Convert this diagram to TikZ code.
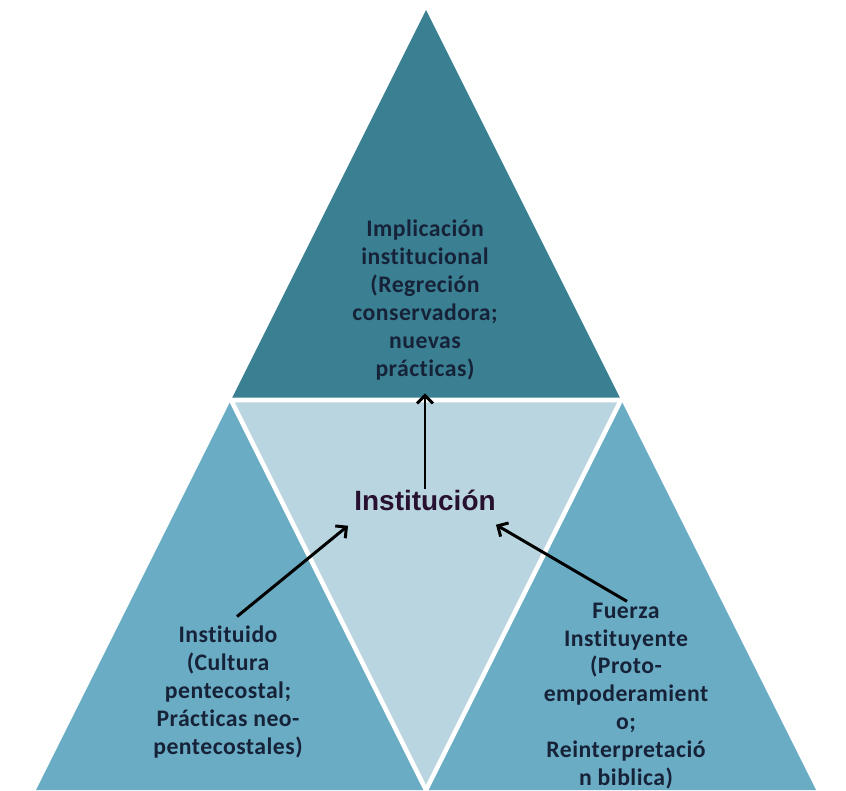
\documentclass[tikz,border=0pt]{standalone}
\usepackage{fontspec}
\usepackage{tikz}
\usetikzlibrary{arrows.meta}
\newfontfamily\boxfont[LetterSpace=2,Ligatures=NoCommon]{Carlito}
\newfontfamily\titlefont{Liberation Sans}
\definecolor{topteal}{RGB}{58,127,146}
\definecolor{sideteal}{RGB}{106,172,196}
\definecolor{midblue}{RGB}{185,214,224}
\definecolor{boxtext}{RGB}{22,34,56}
\definecolor{titletext}{RGB}{40,16,48}

\begin{document}
\begin{tikzpicture}[scale=0.2]
\tikzstyle{every node}+=[inner sep=0pt]
\tikzstyle{boxlabel}=[align=center, text=boxtext, font=\boxfont\bfseries\fontsize{13.5}{15.9}\selectfont]
\tikzstyle{arr}=[black, line width=1.7pt, -{Straight Barb[length=4.5pt,width=9pt]}]
\useasboundingbox (0,0) rectangle (84.6,-79);
% corners of the big triangle
\coordinate (apex) at (42.6,-1);
\coordinate (ml) at (23.1,-40);
\coordinate (mr) at (62.1,-40);
\coordinate (bl) at (3.6,-79);
\coordinate (bm) at (42.6,-79);
\coordinate (br) at (81.6,-79);
\fill [topteal] (apex) -- (ml) -- (mr) -- cycle;
\fill [sideteal] (ml) -- (bl) -- (bm) -- cycle;
\fill [sideteal] (mr) -- (bm) -- (br) -- cycle;
\fill [midblue] (ml) -- (mr) -- (bm) -- cycle;
\draw [white, line width=2.6pt] (ml) -- (mr) -- (bm) -- cycle;
% texts
\node [boxlabel] (implicacion) at (42.5,-30) {Implicación\\institucional\\(Regreción\\conservadora;\\nuevas\\prácticas)};
\node [boxlabel] (instituido) at (22.8,-69.2) {Instituido\\(Cultura\\pentecostal;\\Prácticas neo-\\pentecostales)};
\node [boxlabel] (fuerza) at (62.6,-69.6) {Fuerza\\Instituyente\\(Proto-\\empoderamient\\o;\\Reinterpretació\\n biblica)};
\node [font=\titlefont\bfseries\fontsize{15.9}{19}\selectfont, text=titletext] (institucion) at (42.5,-50) {Institución};
% arrows
\draw [arr, shorten >=7.4pt] (institucion.north) -- (implicacion.south);
\draw [arr] ([shift={(0.9,0.9)}]instituido.north) -- ([shift={(-0.6,-1.5)}]institucion.south west);
\draw [arr] ([shift={(0.1,0.1)}]fuerza.north) -- ([shift={(0,-1.4)}]institucion.south east);
\end{tikzpicture}
\end{document}
